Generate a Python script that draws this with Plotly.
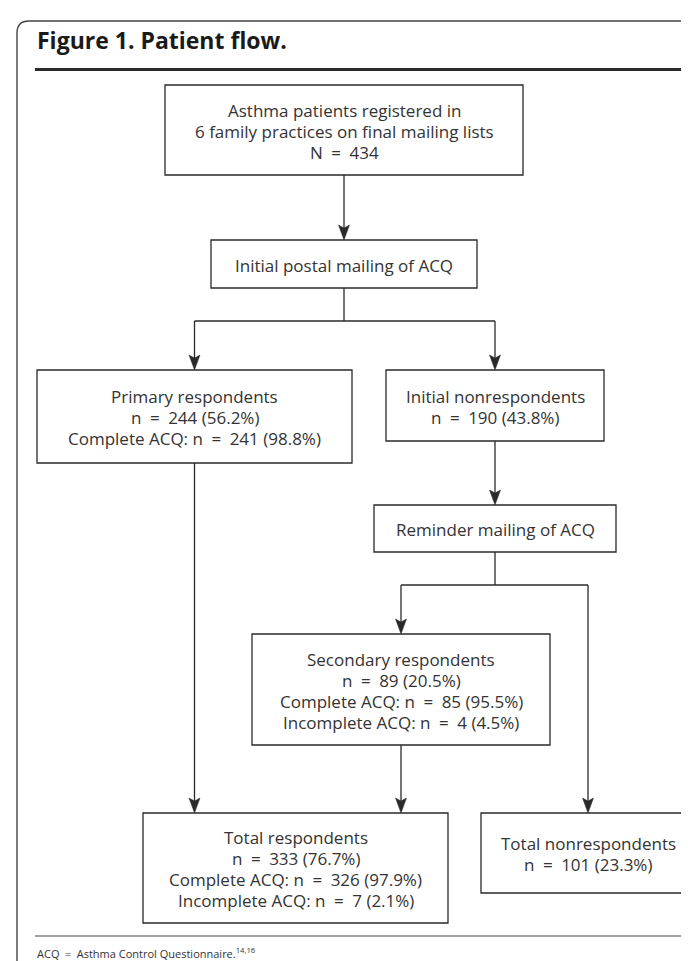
import plotly.graph_objects as go

W, H = 689, 961

# ---------------- data (text content and counts) ----------------
title_text = "Figure 1. Patient flow."
footnote_text = "ACQ\u2002=\u2002Asthma Control Questionnaire."
footnote_refs = "14,16"

total_n = 434
primary_n, primary_pct = 244, 56.2
primary_complete_n, primary_complete_pct = 241, 98.8
initial_non_n, initial_non_pct = 190, 43.8
secondary_n, secondary_pct = 89, 20.5
secondary_complete_n, secondary_complete_pct = 85, 95.5
secondary_incomplete_n, secondary_incomplete_pct = 4, 4.5
total_resp_n, total_resp_pct = 333, 76.7
total_complete_n, total_complete_pct = 326, 97.9
total_incomplete_n, total_incomplete_pct = 7, 2.1
total_non_n, total_non_pct = 101, 23.3

EQ = "\u2002=\u2002"


def npct(label, n, p):
    return f"{label}{EQ}{n} ({p}%)"


box_text = {
    "registered": ["Asthma patients registered in",
                   "6 family practices on final mailing lists",
                   f"N{EQ}{total_n}"],
    "mailing": ["Initial postal mailing of ACQ"],
    "primary": ["Primary respondents",
                npct("n", primary_n, primary_pct),
                npct("Complete ACQ: n", primary_complete_n, primary_complete_pct)],
    "initial_non": ["Initial nonrespondents",
                    npct("n", initial_non_n, initial_non_pct)],
    "reminder": ["Reminder mailing of ACQ"],
    "secondary": ["Secondary respondents",
                  npct("n", secondary_n, secondary_pct),
                  npct("Complete ACQ: n", secondary_complete_n, secondary_complete_pct),
                  npct("Incomplete ACQ: n", secondary_incomplete_n, secondary_incomplete_pct)],
    "total_resp": ["Total respondents",
                   npct("n", total_resp_n, total_resp_pct),
                   npct("Complete ACQ: n", total_complete_n, total_complete_pct),
                   npct("Incomplete ACQ: n", total_incomplete_n, total_incomplete_pct)],
    "total_non": ["Total nonrespondents",
                  npct("n", total_non_n, total_non_pct)],
}

# ---------------- layout geometry (pixel space) ----------------
geom = {
    "registered": (157, 515, 77, 167),
    "mailing": (203, 469, 232, 280),
    "primary": (29, 344, 362, 455),
    "initial_non": (378, 596, 362, 433),
    "reminder": (366, 608, 497, 544),
    "secondary": (244, 542, 626, 737),
    "total_resp": (135, 440, 805, 915),
    "total_non": (473, 687, 805, 885),
}
split1_y = 313
split2_y = 577

LINE_COL = "#2a2a2a"
TEXT_COL = "#333333"
FONT = "Open Sans"
FS = 17
LINE_H = 21

shapes = []
annotations = []


def cx(name):
    g = geom[name]
    return (g[0] + g[1]) / 2


def top(name):
    return geom[name][2]


def bottom(name):
    return geom[name][3]


def line(x0, y0, x1, y1):
    shapes.append(dict(type="line", xref="x", yref="y", x0=x0, y0=y0, x1=x1, y1=y1,
                       line=dict(color=LINE_COL, width=1.3)))


def arrow(x, y0, y1):
    # vertical line ending in filled arrowhead at (x, y1)
    L, hw, notch = 15, 5.5, 3
    line(x, y0, x, y1 - L + notch)
    path = (f"M{x - hw},{y1 - L} L{x},{y1} L{x + hw},{y1 - L} "
            f"L{x},{y1 - L + notch} Z")
    shapes.append(dict(type="path", xref="x", yref="y", path=path,
                       fillcolor=LINE_COL, line=dict(color=LINE_COL, width=0.5)))


# boxes + text
for name, (x0, x1, y0, y1) in geom.items():
    shapes.append(dict(type="rect", xref="x", yref="y", x0=x0, x1=x1, y0=y0, y1=y1,
                       line=dict(color=LINE_COL, width=1.3), fillcolor="white"))
    lines = box_text[name]
    n = len(lines)
    ymid = (y0 + y1) / 2 + 1
    for i, t in enumerate(lines):
        annotations.append(dict(x=(x0 + x1) / 2, y=ymid + (i - (n - 1) / 2) * LINE_H,
                                xref="x", yref="y", text=t, showarrow=False,
                                xanchor="center", yanchor="middle", align="center",
                                font=dict(family=FONT, size=FS, color=TEXT_COL)))

# connectors
arrow(cx("registered"), bottom("registered"), top("mailing"))
line(cx("mailing"), bottom("mailing"), cx("mailing"), split1_y)
line(cx("primary"), split1_y, cx("initial_non"), split1_y)
arrow(cx("primary"), split1_y, top("primary"))
arrow(cx("initial_non"), split1_y, top("initial_non"))
arrow(cx("primary"), bottom("primary"), top("total_resp"))
arrow(cx("initial_non"), bottom("initial_non"), top("reminder"))
line(cx("reminder"), bottom("reminder"), cx("reminder"), split2_y)
line(cx("secondary"), split2_y, cx("total_non"), split2_y)
arrow(cx("secondary"), split2_y, top("secondary"))
arrow(cx("total_non"), split2_y, top("total_non"))
arrow(cx("secondary"), bottom("secondary"), top("total_resp"))

# frame, rules
shapes.append(dict(type="path", xref="x", yref="y",
                   path=f"M{W + 5},13 L21,13 Q9,13 9,25 L9,{H + 5}",
                   line=dict(color="#444444", width=1.4)))
shapes.append(dict(type="line", xref="x", yref="y", x0=27, x1=W + 5, y0=61.5, y1=61.5,
                   line=dict(color="#2a2a2a", width=3.2)))
shapes.append(dict(type="line", xref="x", yref="y", x0=27, x1=W + 5, y0=928, y1=928,
                   line=dict(color="#444444", width=1.2)))

annotations.append(dict(x=27, y=32, xref="x", yref="y", text=f"<b>{title_text}</b>",
                        showarrow=False, xanchor="left", yanchor="middle",
                        font=dict(family=FONT, size=23, color="#1a1a1a")))
annotations.append(dict(x=27, y=945, xref="x", yref="y",
                        text=f"{footnote_text}<sup>{footnote_refs}</sup>",
                        showarrow=False, xanchor="left", yanchor="middle",
                        font=dict(family=FONT, size=11, color=TEXT_COL)))

fig = go.Figure()
fig.update_layout(
    width=W, height=H,
    margin=dict(l=0, r=0, t=0, b=0),
    paper_bgcolor="white", plot_bgcolor="white",
    xaxis=dict(range=[0, W], visible=False, fixedrange=True),
    yaxis=dict(range=[H, 0], visible=False, fixedrange=True),
    shapes=shapes, annotations=annotations, showlegend=False,
)
fig.write_html("out.html")
